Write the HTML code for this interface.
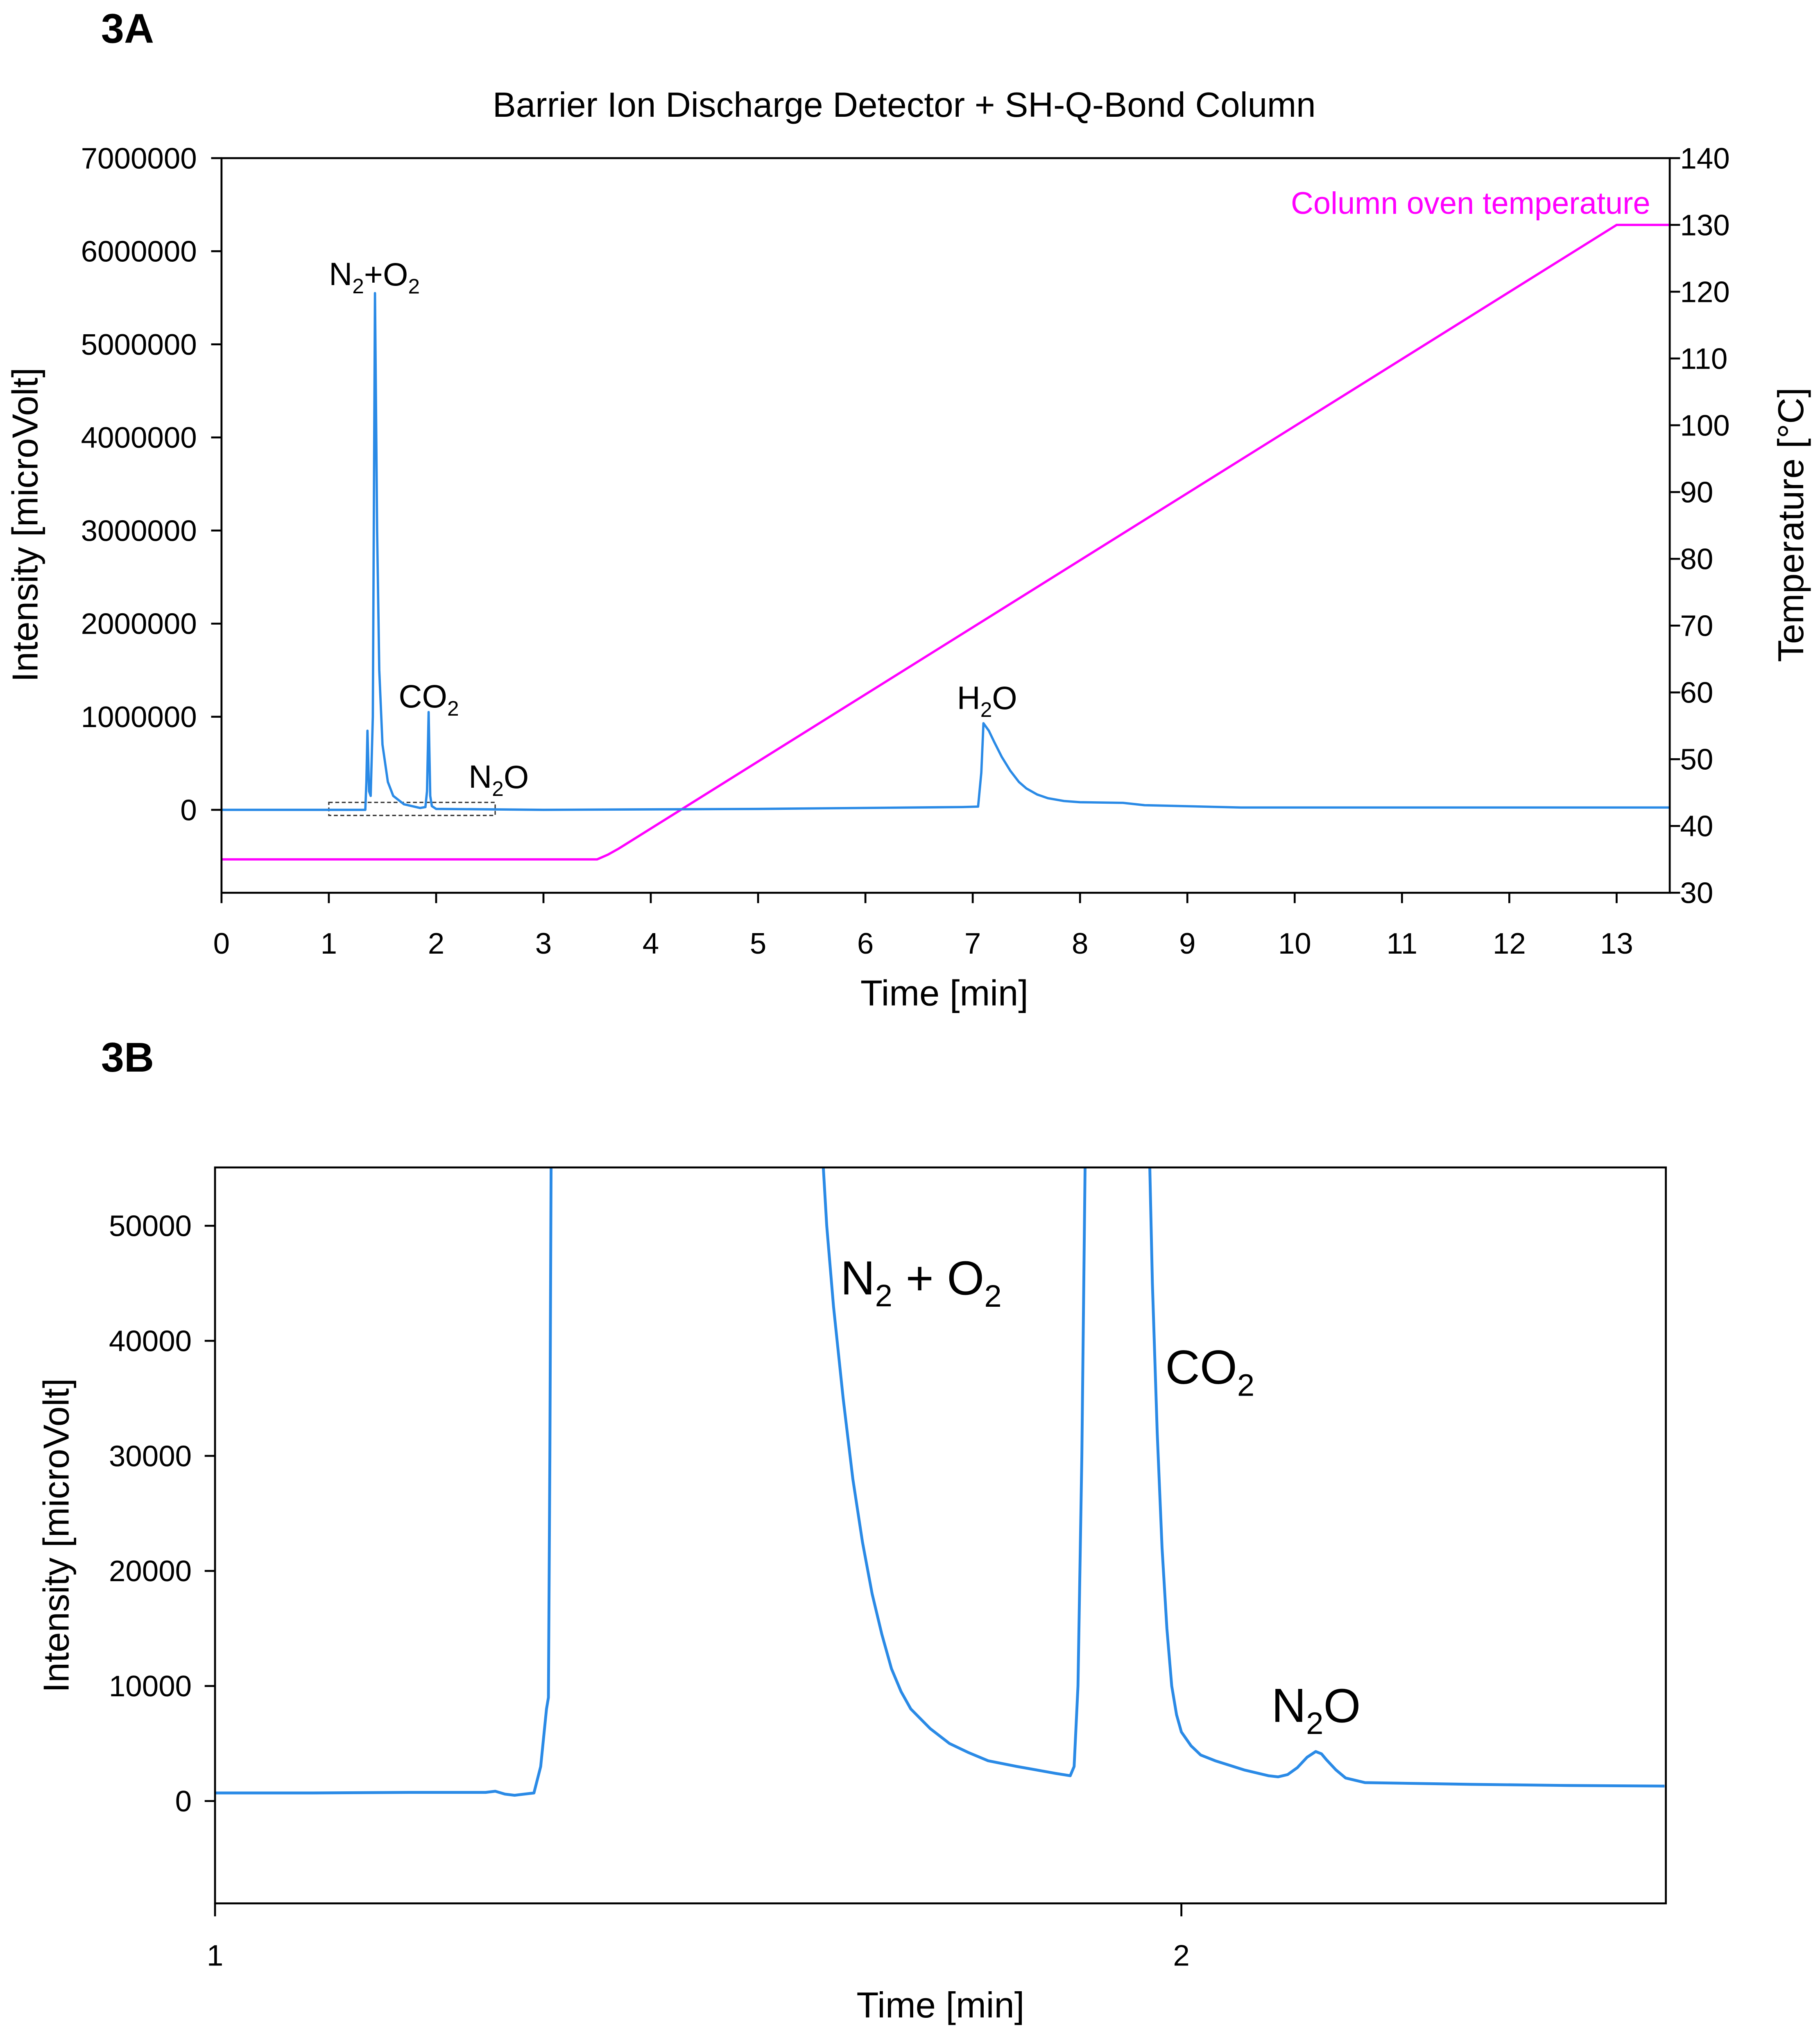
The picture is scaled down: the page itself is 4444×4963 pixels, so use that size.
<!DOCTYPE html>
<html><head><meta charset="utf-8"><style>
html,body{margin:0;padding:0;background:#fff}
svg{display:block}
text{font-family:"Liberation Sans",sans-serif;fill:#000}
</style></head><body>
<svg id="s" width="4444" height="4963" viewBox="0 0 1405 1569" xmlns="http://www.w3.org/2000/svg">
<g id="gA"></g>
<g id="gB"></g>
</svg>
<script>
// ---- Chart 3A data ----
const aTimes=[0,1.34,1.35,1.36,1.375,1.39,1.41,1.43,1.45,1.47,1.5,1.55,1.6,1.7,1.85,1.9,1.915,1.93,1.945,1.96,2.0,3,5,6.9,7.05,7.08,7.1,7.15,7.2,7.27,7.35,7.43,7.5,7.6,7.7,7.85,8,8.4,8.6,9.5,13.5];
const aSignal=[0,0,300000,850000,200000,150000,1000000,5550000,3000000,1500000,700000,300000,150000,60000,20000,30000,200000,1050000,150000,40000,10000,0,10000,30000,35000,400000,930000,850000,730000,570000,420000,300000,230000,165000,125000,95000,82000,75000,50000,25000,25000];
const tempTimes=[0,3.5,3.6,3.7,13.0,13.5];
const tempValues=[35,35,35.7,36.6,130,130];
const aXTicks=[0,1,2,3,4,5,6,7,8,9,10,11,12,13];
const aYTicks=[0,1000000,2000000,3000000,4000000,5000000,6000000,7000000];
const aTTicks=[30,40,50,60,70,80,90,100,110,120,130,140];
// ---- Chart 3B data ----
const bTimes=[1.0,1.1,1.2,1.28,1.29,1.30,1.31,1.33,1.337,1.343,1.345,1.3465,1.348,1.626,1.633,1.64,1.65,1.66,1.67,1.68,1.69,1.70,1.71,1.72,1.74,1.76,1.78,1.80,1.83,1.85,1.87,1.885,1.889,1.893,1.897,1.901,1.966,1.970,1.975,1.98,1.985,1.99,1.995,2.0,2.01,2.02,2.035,2.05,2.065,2.08,2.09,2.10,2.11,2.12,2.13,2.139,2.145,2.15,2.16,2.17,2.19,2.3,2.4,2.5];
const bSignal=[700,700,750,750,850,600,500,700,3000,8000,9000,30000,60000,60000,50000,43000,35000,28000,22500,18000,14500,11500,9500,8000,6300,5000,4200,3500,3000,2700,2400,2200,3000,10000,30000,60000,60000,45000,32000,22000,15000,10000,7500,6000,4800,4000,3500,3100,2700,2400,2200,2100,2300,2900,3800,4300,4100,3600,2700,2000,1600,1450,1350,1300];
const bXTicks=[1,2];
const bYTicks=[0,10000,20000,30000,40000,50000];

const NS="http://www.w3.org/2000/svg";
function mk(parent,tag,attrs,txt){const e=document.createElementNS(NS,tag);for(const k in attrs)e.setAttribute(k,attrs[k]);if(txt!==undefined)e.textContent=txt;parent.appendChild(e);return e;}
const BLUE="#2a8ae6";

// ===== 3A =====
const A=document.getElementById('gA');
const aL=171,aR=1289,aT=122,aB=689;
const ax=t=>aL+t*(1248-171)/13;
const ay=v=>625-v*(625-122)/7000000;
const at=v=>689-(v-30)*(689-122)/110;
let e;
e=mk(A,'text',{x:78,y:33,'font-size':32,'font-weight':'bold'},'3A');

e=mk(A,'text',{x:698,y:90,'font-size':27,'text-anchor':'middle'},'Barrier Ion Discharge Detector + SH-Q-Bond Column');

e=mk(A,'rect',{x:ax(1),y:ay(80000),width:ax(2.55)-ax(1),height:ay(-60000)-ay(80000),fill:'none',stroke:'#333','stroke-width':1,'stroke-dasharray':'3,2'});

e=mk(A,'polyline',{points:tempTimes.map((t,i)=>ax(t)+','+at(tempValues[i])).join(' '),fill:'none',stroke:'#ff00ff','stroke-width':1.8});

e=mk(A,'polyline',{points:aTimes.map((t,i)=>ax(t)+','+ay(aSignal[i])).join(' '),fill:'none',stroke:BLUE,'stroke-width':1.8,'stroke-linejoin':'round'});

e=mk(A,'rect',{x:aL,y:aT,width:aR-aL,height:aB-aT,fill:'none',stroke:'#000','stroke-width':1.5});

aXTicks.forEach(t=>{
 e=mk(A,'line',{x1:ax(t),x2:ax(t),y1:aB,y2:aB+8,stroke:'#000','stroke-width':1.5});
 
 e=mk(A,'text',{x:ax(t),y:736,'font-size':23,'text-anchor':'middle'},String(t));
 
});
aYTicks.forEach(v=>{
 e=mk(A,'line',{x1:aL-8,x2:aL,y1:ay(v),y2:ay(v),stroke:'#000','stroke-width':1.5});
 
 e=mk(A,'text',{x:152,y:ay(v)+8,'font-size':23,'text-anchor':'end'},String(v));
 
});
aTTicks.forEach(v=>{
 e=mk(A,'line',{x1:aR,x2:aR+8,y1:at(v),y2:at(v),stroke:'#000','stroke-width':1.5});
 
 e=mk(A,'text',{x:1297,y:at(v)+8,'font-size':23},String(v));
 
});
e=mk(A,'text',{x:729,y:776,'font-size':28,'text-anchor':'middle'},'Time [min]');

e=mk(A,'text',{x:0,y:0,'font-size':28,'text-anchor':'middle',transform:'translate(29,405) rotate(-90)'},'Intensity [microVolt]');

e=mk(A,'text',{x:0,y:0,'font-size':28,'text-anchor':'middle',transform:'translate(1392,405) rotate(-90)'},'Temperature [°C]');

e=mk(A,'text',{x:1274,y:165,'font-size':24,'text-anchor':'end',style:'fill:#ff00ff'},'Column oven temperature');

function chem(parent,x,y,size,parts,name){
 const t=mk(parent,'text',{x:x,y:y,'font-size':size,'text-anchor':'middle'});
 
 parts.forEach(p=>{mk(t,'tspan',p[1]?{'font-size':size*0.65,dy:size*0.25}:{dy:p[2]||0},p[0]);});
 return t;
}
chem(A,289,220,25,[['N'],['2',1],['+O',0,-6],['2',1]],'peak-label-n2-o2');
chem(A,331,546,25,[['CO'],['2',1]],'peak-label-co2');
chem(A,385,608,25,[['N'],['2',1],['O',0,-6]],'peak-label-n2o');
chem(A,762,547,25,[['H'],['2',1],['O',0,-6]],'peak-label-h2o');

// ===== 3B =====
const B=document.getElementById('gB');
const bL=166,bR=1286,bT=901,bB=1469;
const bx=t=>bL+(t-1)*(912-166);
const by=v=>1390-v*(1390-946)/50000;
e=mk(B,'text',{x:78,y:827,'font-size':32,'font-weight':'bold'},'3B');

mk(B,'clipPath',{id:'cb'});
mk(document.getElementById('cb'),'rect',{x:bL,y:bT,width:bR-bL,height:bB-bT});
e=mk(B,'polyline',{points:bTimes.map((t,i)=>bx(t)+','+by(bSignal[i])).join(' '),fill:'none',stroke:BLUE,'stroke-width':2.2,'stroke-linejoin':'round','clip-path':'url(#cb)'});

e=mk(B,'rect',{x:bL,y:bT,width:bR-bL,height:bB-bT,fill:'none',stroke:'#000','stroke-width':1.5});

bXTicks.forEach(t=>{
 e=mk(B,'line',{x1:bx(t),x2:bx(t),y1:bB,y2:bB+10,stroke:'#000','stroke-width':1.5});
 
 e=mk(B,'text',{x:bx(t),y:1517,'font-size':23,'text-anchor':'middle'},String(t));
 
});
bYTicks.forEach(v=>{
 e=mk(B,'line',{x1:bL-8,x2:bL,y1:by(v),y2:by(v),stroke:'#000','stroke-width':1.5});
 
 e=mk(B,'text',{x:148,y:by(v)+8,'font-size':23,'text-anchor':'end'},String(v));
 
});
e=mk(B,'text',{x:726,y:1557,'font-size':28,'text-anchor':'middle'},'Time [min]');

e=mk(B,'text',{x:0,y:0,'font-size':28,'text-anchor':'middle',transform:'translate(53,1185) rotate(-90)'},'Intensity [microVolt]');

chem(B,711,999,37,[['N'],['2',1],[' + O',0,-9],['2',1]],'peak-label-n2-o2');
chem(B,934,1068,37,[['CO'],['2',1]],'peak-label-co2');
chem(B,1016,1329,37,[['N'],['2',1],['O',0,-9]],'peak-label-n2o');
</script>
</body></html>
